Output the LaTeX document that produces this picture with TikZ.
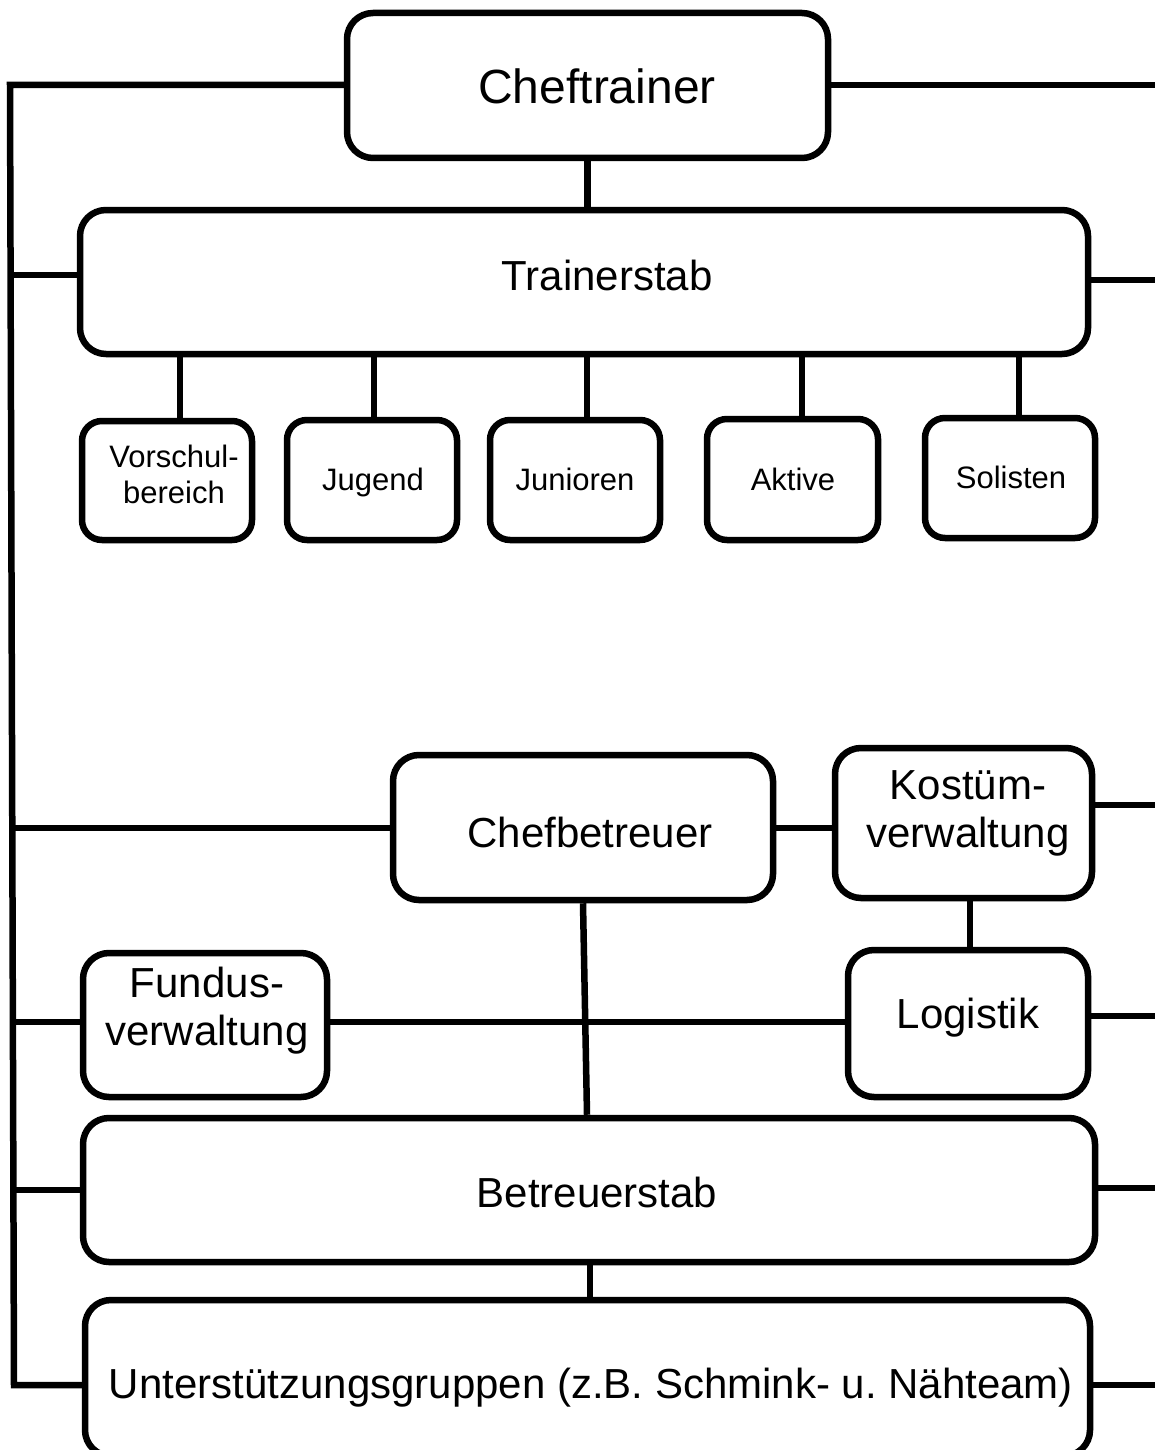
\documentclass[tikz,border=0pt]{standalone}
\usepackage{fontspec}
\setmainfont{Liberation Sans}
\usetikzlibrary{fit}
\frenchspacing
\begin{document}
\begin{tikzpicture}[x=1pt,y=-1pt,
  box/.style={draw=black,line width=6.5pt,rounded corners=26pt,inner sep=0pt,fill=white},
  sbox/.style={box,rounded corners=20pt},
  conn/.style={draw=black,line width=6.5pt},
  big/.style={font=\fontsize{48}{56}\selectfont},
  mid/.style={font=\fontsize{42}{48}\selectfont,align=center},
  small/.style={font=\fontsize{31}{36}\selectfont,align=center}]
\useasboundingbox (0,0) rectangle (1155,1450);
\clip (0,0) rectangle (1155,1450);
% corner coordinates of the boxes
\coordinate (ct1) at (347,13);  \coordinate (ct2) at (828,158);
\coordinate (ts1) at (80,210);  \coordinate (ts2) at (1088,354);
\coordinate (v1) at (82,421);   \coordinate (v2) at (252,540);
\coordinate (j1) at (287,420);  \coordinate (j2) at (457,540);
\coordinate (jn1) at (490,420); \coordinate (jn2) at (660,540);
\coordinate (a1) at (707,419);  \coordinate (a2) at (878,540);
\coordinate (s1) at (925,418);  \coordinate (s2) at (1095,538);
\coordinate (cb1) at (393,755); \coordinate (cb2) at (773,900);
\coordinate (kv1) at (835,748); \coordinate (kv2) at (1092,898);
\coordinate (lg1) at (848,950); \coordinate (lg2) at (1088,1097);
\coordinate (fv1) at (83,953);  \coordinate (fv2) at (327,1097);
\coordinate (bs1) at (83,1118); \coordinate (bs2) at (1095,1262);
\coordinate (ug1) at (85,1300); \coordinate (ug2) at (1090,1456);
% spine points and right free ends
\coordinate (Ltop) at (10,85);
\coordinate (Lbot) at (14,1385);
\coordinate (Rct) at (1155,85);
\coordinate (Rts) at (1155,280);
\coordinate (Rkv) at (1155,805);
\coordinate (Rlg) at (1155,1016);
\coordinate (Rbs) at (1155,1188);
\coordinate (Rug) at (1155,1385);
% boxes
\node[box,fit=(ct1)(ct2)] (ct) {};
\node[box,fit=(ts1)(ts2)] (ts) {};
\node[sbox,fit=(v1)(v2)] (v) {};
\node[sbox,fit=(j1)(j2)] (j) {};
\node[sbox,fit=(jn1)(jn2)] (jn) {};
\node[sbox,fit=(a1)(a2)] (a) {};
\node[sbox,fit=(s1)(s2)] (s) {};
\node[box,fit=(cb1)(cb2)] (cb) {};
\node[box,fit=(kv1)(kv2)] (kv) {};
\node[box,fit=(lg1)(lg2)] (lg) {};
\node[box,fit=(fv1)(fv2)] (fv) {};
\node[box,fit=(bs1)(bs2)] (bs) {};
\node[box,fit=(ug1)(ug2)] (ug) {};
% texts
\node[big,anchor=base] (tct) at (597,104) {Cheftrainer};
\node[mid,anchor=base] (tts) at (607,290) {Trainerstab};
\node[small] (tv) at (174,474) {Vorschul-\\bereich};
\node[small,anchor=base] (tj) at (373,490) {Jugend};
\node[small,anchor=base] (tjn) at (575,490) {Junioren};
\node[small,anchor=base] (ta) at (793,490) {Aktive};
\node[small,anchor=base] (tsl) at (1011,488) {Solisten};
\node[mid,anchor=base] (tcb) at (590,847) {Chefbetreuer};
\node[mid] (tkv) at (968,813) {Kostüm-\\verwaltung};
\node[mid,anchor=base] (tlg) at (968,1028) {Logistik};
\node[mid] (tfv) at (207,1011) {Fundus-\\verwaltung};
\node[mid,anchor=base] (tbs) at (597,1207) {Betreuerstab};
\node[mid,anchor=base] (tug) at (591,1398) {Unterstützungsgruppen (z.B. Schmink- u. Nähteam)};
% connectors
\draw[conn] (ct.west |- Ltop) -- (Ltop) -- (Lbot) -- (ug.west |- Lbot);
\draw[conn] (ct.east |- Rct) -- (Rct);
\draw[conn] (ct.south) -- (ts.north -| ct.south);
\draw[conn] (ts.west |- 0,275) -- (Lbot |- 0,275);
\draw[conn] (ts.east |- Rts) -- (Rts);
\draw[conn] (ts.south -| 180,0) -- (v.north -| 180,0);
\draw[conn] (ts.south -| 374,0) -- (j.north -| 374,0);
\draw[conn] (ts.south -| 587,0) -- (jn.north -| 587,0);
\draw[conn] (ts.south -| 802,0) -- (a.north -| 802,0);
\draw[conn] (ts.south -| 1019,0) -- (s.north -| 1019,0);
\draw[conn] (12,828) -- (cb.west |- 0,828);
\draw[conn] (cb.east |- 0,828) -- (kv.west |- 0,828);
\draw[conn] (kv.east |- Rkv) -- (Rkv);
\draw[conn] (kv.south -| 970,0) -- (lg.north -| 970,0);
\draw[conn] (lg.east |- Rlg) -- (Rlg);
\draw[conn] (13,1022) -- (fv.west |- 0,1022);
\draw[conn] (fv.east |- 0,1022) -- (lg.west |- 0,1022);
\draw[conn] (cb.south -| 583,0) -- (bs.north -| 587,0);
\draw[conn] (14,1190) -- (bs.west |- 0,1190);
\draw[conn] (bs.east |- Rbs) -- (Rbs);
\draw[conn] (bs.south -| 590,0) -- (ug.north -| 590,0);
\draw[conn] (ug.east |- Rug) -- (Rug);
\end{tikzpicture}
\end{document}
